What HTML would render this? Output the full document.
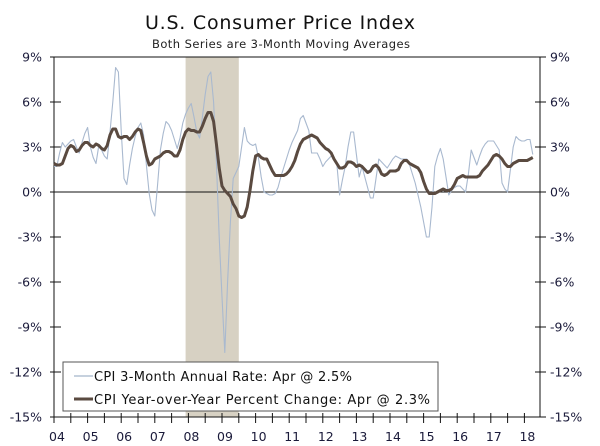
<!DOCTYPE html>
<html><head><meta charset="utf-8"><style>
html,body{margin:0;padding:0;background:#fff;}
svg{display:block;font-family:"DejaVu Sans","Liberation Sans",sans-serif;}
</style></head><body>
<svg id="chart" width="600" height="446" viewBox="0 0 600 446">
<text x="280" y="29" font-size="19" text-anchor="middle" textLength="270" fill="#111">U.S. Consumer Price Index</text>
<text x="281" y="48" font-size="11.5" text-anchor="middle" textLength="258" fill="#222">Both Series are 3-Month Moving Averages</text>
<g id="shade"></g>
<g id="axes"></g>
<g id="series"></g>
<g>
<rect x="63" y="362" width="375" height="49" fill="#fff" stroke="#555" stroke-width="1"/>
<line x1="74" y1="376" x2="93" y2="376" stroke="#b4c2d4" stroke-width="1.5"/>
<text x="94" y="381" font-size="13" textLength="258" fill="#111">CPI 3-Month Annual Rate: Apr @ 2.5%</text>
<line x1="74" y1="399" x2="93" y2="399" stroke="#5a4a40" stroke-width="3"/>
<text x="94" y="404" font-size="13" textLength="336" fill="#111">CPI Year-over-Year Percent Change: Apr @ 2.3%</text>
</g>
</svg>
<script>
const yTicks=[9,6,3,0,-3,-6,-9,-12,-15];
const yTickLabels=["9%","6%","3%","0%","-3%","-6%","-9%","-12%","-15%"];
const years=["04","05","06","07","08","09","10","11","12","13","14","15","16","17","18"];
const recessionStart=47, recessionEnd=66;
const threeMonthRate=[
1.7,1.7,2.6,3.3,3.0,3.2,3.4,3.5,3.0,2.6,3.3,3.9,
4.3,3.0,2.3,1.9,3.1,2.8,2.4,2.2,4.0,6.0,8.3,8.0,
4.1,0.9,0.5,1.8,2.9,3.7,4.3,4.6,3.8,1.8,-0.1,-1.2,
-1.6,0.5,2.8,3.9,4.7,4.5,4.1,3.5,2.9,3.6,4.6,5.2,
5.6,5.9,5.0,4.0,3.6,5.0,6.5,7.7,8.0,6.0,2.0,-3.0,
-7.0,-10.7,-6.0,-2.0,0.9,1.3,1.7,3.0,4.3,3.4,3.2,3.1,
3.2,2.3,1.0,0.0,-0.1,-0.2,-0.2,-0.1,0.3,1.0,1.6,2.2,
2.8,3.3,3.7,4.1,4.9,5.1,4.6,4.1,2.6,2.6,2.6,2.2,
1.7,2.0,2.2,2.4,2.2,1.9,-0.2,0.8,1.7,3.0,4.0,4.0,
2.5,1.0,1.7,1.0,0.3,-0.4,-0.4,0.9,2.2,2.0,1.8,1.6,
1.9,2.2,2.4,2.3,2.2,2.2,2.2,1.8,1.2,0.6,-0.2,-1.0,
-2.0,-3.0,-3.0,-1.0,1.7,2.4,2.9,2.2,1.0,-0.2,0.1,0.3,
0.4,0.4,0.2,0.0,1.2,2.8,2.3,1.8,2.4,2.9,3.2,3.4,
3.4,3.4,3.1,2.8,0.6,0.2,0.0,1.5,3.0,3.7,3.5,3.4,
3.4,3.5,3.5,2.5];
const yoyChange=[
1.9,1.8,1.8,1.9,2.4,2.9,3.1,3.0,2.7,2.8,3.1,3.3,
3.3,3.1,3.0,3.2,3.1,2.9,2.8,3.1,3.8,4.2,4.2,3.7,
3.6,3.7,3.7,3.5,3.7,4.0,4.2,4.1,3.3,2.4,1.8,1.9,
2.2,2.3,2.4,2.6,2.7,2.7,2.6,2.4,2.4,2.8,3.5,4.0,
4.2,4.1,4.1,4.0,4.0,4.4,4.9,5.3,5.3,4.7,3.2,1.6,
0.4,0.1,-0.1,-0.3,-0.8,-1.1,-1.6,-1.7,-1.6,-1.0,0.1,1.4,
2.4,2.5,2.3,2.2,2.2,1.8,1.4,1.1,1.1,1.1,1.1,1.2,
1.4,1.7,2.1,2.7,3.2,3.5,3.6,3.7,3.8,3.7,3.6,3.3,
3.1,2.9,2.8,2.6,2.2,1.9,1.6,1.6,1.7,2.0,2.0,1.9,
1.7,1.8,1.7,1.5,1.3,1.4,1.7,1.8,1.6,1.2,1.1,1.2,
1.4,1.4,1.4,1.5,1.9,2.1,2.1,1.9,1.8,1.7,1.6,1.3,
0.7,0.2,-0.1,-0.1,-0.1,0.0,0.1,0.2,0.1,0.1,0.2,0.5,
0.9,1.0,1.1,1.0,1.0,1.0,1.0,1.0,1.1,1.4,1.6,1.8,
2.1,2.4,2.5,2.4,2.2,1.9,1.7,1.7,1.9,2.0,2.1,2.1,
2.1,2.1,2.2,2.3];

const NS="http://www.w3.org/2000/svg";
const L=54,R=540,T=57,B=417;
const X0=54,PER_YEAR=33.6;
function xScale(m){return X0+m/12*PER_YEAR;}
function yScale(v){return 192-v*15;}
function mk(tag,attrs,parent){const e=document.createElementNS(NS,tag);for(const k in attrs)e.setAttribute(k,attrs[k]);parent.appendChild(e);return e;}

const shade=document.getElementById('shade');
const rec=mk('rect',{x:xScale(recessionStart),y:T,width:xScale(recessionEnd)-xScale(recessionStart),height:B-T,fill:'#d7d1c3'},shade);



const ax=document.getElementById('axes');
const frame=mk('path',{d:`M${L},${B} L${L},${T} L${R},${T} L${R},${B} L${L},${B}`,fill:'none',stroke:'#111','stroke-width':1},ax);


const zero=mk('line',{x1:L,x2:R,y1:yScale(0),y2:yScale(0),stroke:'#111','stroke-width':1},ax);


yTicks.forEach((v,i)=>{
  const y=yScale(v);
  mk('line',{x1:L-4,x2:L+7,y1:y,y2:y,stroke:'#111'},ax);
  mk('line',{x1:R-5,x2:R+6,y1:y,y2:y,stroke:'#111'},ax);
  const tl=mk('text',{x:42,y:y+4.5,'font-size':12.5,'text-anchor':'end',fill:'#1a1a3a'},ax);
  tl.textContent=yTickLabels[i];
  
  
  const tr=mk('text',{x:550,y:y+4.5,'font-size':12.5,'text-anchor':'start',fill:'#1a1a3a'},ax);
  tr.textContent=yTickLabels[i];
  
  
});
for(let h=0;h<=29;h++){
  const x=xScale(h*6);
  if(x>R)break;
  mk('line',{x1:x,x2:x,y1:B-4,y2:B+6,stroke:'#111'},ax);
}
years.forEach((yr,i)=>{
  const t=mk('text',{x:xScale(i*12)+3,y:441,'font-size':12.5,'text-anchor':'middle',fill:'#1a1a3a'},ax);
  t.textContent=yr;
  
  
});

const sg=document.getElementById('series');
function pathFor(arr){return arr.map((v,i)=>(i?'L':'M')+xScale(i).toFixed(2)+','+yScale(v).toFixed(2)).join(' ');}
const thin=mk('path',{d:pathFor(threeMonthRate),fill:'none',stroke:'#a9b9cf','stroke-width':1.1,'stroke-linejoin':'round'},sg);


const thick=mk('path',{d:pathFor(yoyChange),fill:'none',stroke:'#5a4a40','stroke-width':3,'stroke-linejoin':'round'},sg);


</script>
</body></html>
